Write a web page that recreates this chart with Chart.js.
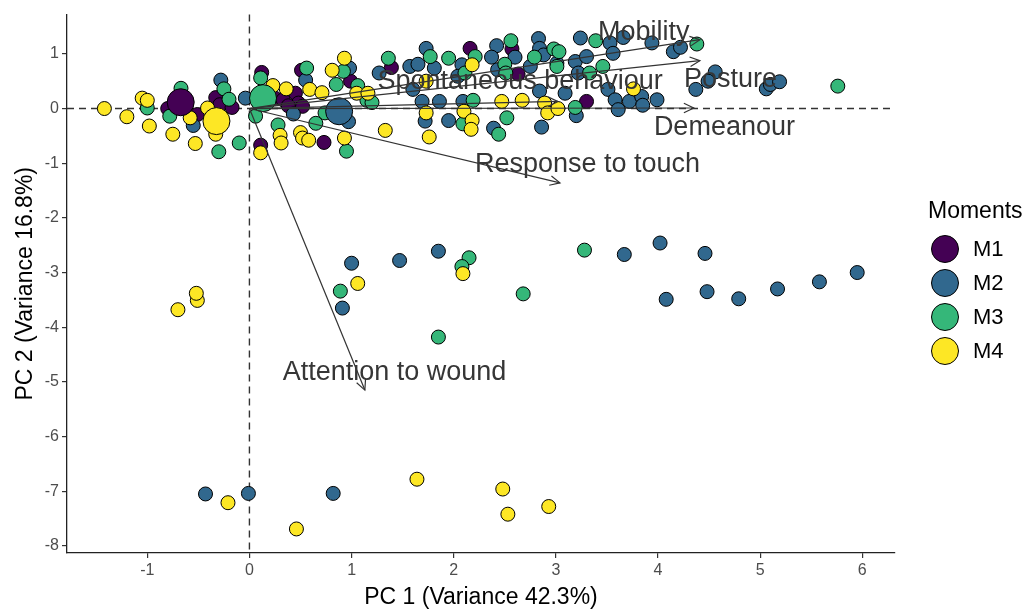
<!DOCTYPE html>
<html><head><meta charset="utf-8">
<script src="https://cdn.jsdelivr.net/npm/chart.js@4.4.0/dist/chart.umd.min.js"></script>
<style>html,body{margin:0;padding:0;background:#fff}</style>
</head><body>
<canvas id="c" width="1028" height="611" style="display:block"></canvas>
<script>
const FONT = '"Liberation Sans", Arial, sans-serif';
const moments = ['M1', 'M2', 'M3', 'M4'];
const momentColors = ['#440154', '#31688E', '#35B779', '#FDE725'];
const xTitle = 'PC 1 (Variance 42.3%)';
const yTitle = 'PC 2 (Variance 16.8%)';
const legendTitle = 'Moments';

const m1Points = [[-0.80,0.00],[-0.51,-0.11],[-0.33,0.20],[-0.29,0.07],[-0.17,0.02],[0.12,0.66],[0.11,-0.67],
  [0.25,0.19],[0.45,0.28],[0.48,0.10],[0.33,0.16],[0.38,0.05],[0.52,0.04],[0.51,0.70],[0.73,-0.62],[0.99,0.50],
  [1.39,0.75],[2.16,1.10],[2.57,1.09],[2.63,0.63],[3.30,0.13]];
const m2Points = [[-0.55,-0.31],[-0.28,0.52],[-0.04,0.19],[0.43,-0.10],[0.55,0.52],[0.97,-0.24],[0.98,0.74],
  [1.27,0.65],[1.57,0.77],[1.65,0.81],[1.73,1.10],[1.81,0.74],[1.60,0.35],[1.69,0.13],[1.72,-0.23],[1.86,0.13],
  [1.95,-0.22],[2.08,0.80],[2.04,0.59],[2.09,0.13],[2.42,1.15],[2.37,0.94],[2.60,0.94],[2.43,0.71],[2.83,1.28],
  [2.84,1.10],[2.88,0.98],[3.01,0.83],[2.75,0.77],[2.84,0.32],[2.39,-0.36],[2.86,-0.34],[3.24,1.29],[3.53,1.20],
  [3.56,1.01],[3.66,1.30],[3.94,1.20],[4.15,1.04],[4.22,1.12],[3.19,0.86],[3.30,0.95],[3.22,0.65],[4.56,0.67],
  [4.49,0.50],[4.37,0.35],[5.06,0.36],[5.10,0.44],[5.19,0.49],[3.09,0.28],[3.51,0.35],[3.58,0.16],[3.72,0.13],
  [3.84,0.22],[3.99,0.16],[3.61,-0.02],[3.85,0.06],[3.20,-0.13],
  [1.00,-2.83],[1.47,-2.78],[1.85,-2.61],[0.91,-3.65],[3.67,-2.67],[4.02,-2.46],[4.46,-2.65],[4.08,-3.49],
  [4.48,-3.35],[4.79,-3.48],[5.17,-3.30],[5.58,-3.17],[5.95,-3.00],[-0.43,-7.05],[-0.01,-7.04],[0.82,-7.04]];
const m3Points = [[-1.00,0.01],[-0.78,-0.14],[-0.67,0.37],[-0.30,-0.79],[-0.25,0.36],[-0.20,0.17],[-0.10,-0.63],
  [0.06,-0.14],[0.11,0.56],[0.28,-0.30],[0.56,0.74],[0.65,-0.27],[0.74,-0.08],[0.85,0.44],[0.92,0.68],[0.95,-0.78],
  [1.06,0.42],[1.15,0.15],[1.20,0.11],[1.36,0.92],[1.77,0.95],[1.95,0.92],[2.11,0.65],[2.21,0.95],[2.09,-0.28],
  [2.19,0.15],[2.50,0.81],[2.51,0.65],[2.56,1.24],[2.79,0.94],[2.98,1.09],[3.03,1.04],[3.01,0.77],[3.46,0.77],
  [3.39,1.24],[4.38,1.18],[3.33,0.65],[5.76,0.41],[2.52,-0.17],[2.44,-0.47],[3.19,0.02],
  [2.15,-2.73],[2.08,-2.89],[0.89,-3.34],[1.85,-4.18],[2.68,-3.39],[3.28,-2.59]];
const m4Points = [[-1.42,0.00],[-1.20,-0.15],[-1.05,0.19],[-1.00,0.15],[-0.98,-0.32],[-0.75,-0.47],[-0.58,-0.17],
  [-0.53,-0.64],[-0.41,0.01],[-0.33,-0.47],[0.11,-0.81],[0.23,0.42],[0.36,0.36],[0.30,-0.49],[0.31,-0.63],
  [0.50,-0.44],[0.52,-0.54],[0.58,-0.58],[0.59,0.35],[0.71,0.29],[0.81,0.70],[0.93,0.92],[0.93,-0.54],[1.05,0.28],
  [1.16,0.28],[1.33,-0.40],[1.73,0.50],[1.73,-0.08],[1.76,-0.52],[2.10,-0.05],[2.18,0.80],[2.18,-0.22],[2.17,-0.38],
  [2.47,0.13],[2.67,0.15],[2.89,0.10],[2.92,-0.08],[3.02,0.00],[3.76,0.36],
  [-0.70,-3.68],[-0.51,-3.51],[-0.52,-3.38],[1.06,-3.20],[2.09,-3.02],[-0.21,-7.21],[0.46,-7.69],[1.64,-6.78],
  [2.48,-6.96],[2.53,-7.42],[2.93,-7.28]];

const centroidX = [-0.673, 0.878, 0.133, -0.323];
const centroidY = [0.115, -0.05, 0.19, -0.23];

const loadingNames = ['Mobility', 'Posture', 'Demeanour', 'Spontaneous behaviour', 'Response to touch', 'Attention to wound'];
const loadingX = [4.41, 4.41, 4.35, 3.02, 3.04, 1.13];
const loadingY = [1.26, 0.875, 0.01, 0.13, -1.36, -5.15];
const labelX = [3.86, 4.71, 4.65, 2.65, 3.31, 1.42];
const labelY = [1.39, 0.53, -0.34, 0.50, -1.02, -4.83];

const xTicks = [-1, 0, 1, 2, 3, 4, 5, 6];
const yTicks = [-8, -7, -6, -5, -4, -3, -2, -1, 0, 1];

const seriesPoints = [m1Points, m2Points, m3Points, m4Points];
const datasets = [];
seriesPoints.forEach((pts, i) => {
  datasets.push({
    label: moments[i],
    data: pts.map(p => ({x: p[0], y: p[1]})),
    backgroundColor: momentColors[i], borderColor: '#000', borderWidth: 1,
    pointRadius: 7, pointHoverRadius: 7, order: 5 - i
  });
});
moments.forEach((m, i) => {
  datasets.push({
    label: m + ' centroid',
    data: [{x: centroidX[i], y: centroidY[i]}],
    backgroundColor: momentColors[i], borderColor: '#000', borderWidth: 1,
    pointRadius: 13.5, pointHoverRadius: 13.5, order: 0
  });
});

const refLines = {
  id: 'refLines',
  beforeDatasetsDraw(chart) {
    const {ctx, chartArea: a, scales: {x, y}} = chart;
    ctx.save();
    ctx.strokeStyle = '#333'; ctx.lineWidth = 1.4; ctx.setLineDash([7, 5]);
    const x0 = x.getPixelForValue(0), y0 = y.getPixelForValue(0);
    ctx.beginPath(); ctx.moveTo(x0, a.top); ctx.lineTo(x0, a.bottom); ctx.stroke();
    ctx.beginPath(); ctx.moveTo(a.left, y0); ctx.lineTo(a.right, y0); ctx.stroke();
    ctx.restore();
  }
};

const arrows = {
  id: 'arrows',
  afterDatasetsDraw(chart) {
    const {ctx, scales: {x, y}} = chart;
    const ox = x.getPixelForValue(0), oy = y.getPixelForValue(0);
    ctx.save();
    ctx.strokeStyle = '#333'; ctx.lineWidth = 1.2; ctx.setLineDash([]);
    loadingNames.forEach((n, i) => {
      const ex = x.getPixelForValue(loadingX[i]), ey = y.getPixelForValue(loadingY[i]);
      const ang = Math.atan2(ey - oy, ex - ox);
      const L = 11, h = 0.45;
      ctx.beginPath(); ctx.moveTo(ox, oy); ctx.lineTo(ex, ey); ctx.stroke();
      ctx.beginPath();
      ctx.moveTo(ex - L * Math.cos(ang - h), ey - L * Math.sin(ang - h));
      ctx.lineTo(ex, ey);
      ctx.lineTo(ex - L * Math.cos(ang + h), ey - L * Math.sin(ang + h));
      ctx.stroke();
    });
    ctx.fillStyle = '#363636';
    ctx.font = '27px ' + FONT;
    ctx.textAlign = 'center'; ctx.textBaseline = 'middle';
    loadingNames.forEach((n, i) => {
      ctx.fillText(n, x.getPixelForValue(labelX[i]), y.getPixelForValue(labelY[i]));
    });
    ctx.restore();
  }
};

const legendPlugin = {
  id: 'customLegend',
  afterDraw(chart) {
    const ctx = chart.ctx;
    ctx.save();
    ctx.fillStyle = '#000';
    ctx.font = '23px ' + FONT;
    ctx.textAlign = 'left'; ctx.textBaseline = 'middle';
    ctx.fillText(legendTitle, 928, 212);
    moments.forEach((m, i) => {
      const cy = 249 + i * 34;
      ctx.beginPath(); ctx.arc(945, cy, 13.5, 0, Math.PI * 2);
      ctx.fillStyle = momentColors[i]; ctx.fill();
      ctx.lineWidth = 1; ctx.strokeStyle = '#000'; ctx.stroke();
      ctx.fillStyle = '#000'; ctx.font = '22px ' + FONT;
      ctx.fillText(m, 973, cy + 1);
    });
    ctx.restore();
  }
};

new Chart(document.getElementById('c'), {
  type: 'scatter',
  data: {datasets},
  options: {
    responsive: false, animation: false, devicePixelRatio: 1,
    layout: {padding: {left: 12, right: 133, top: 13, bottom: 0}},
    plugins: {legend: {display: false}, tooltip: {enabled: false}},
    scales: {
      x: {
        type: 'linear', min: -1.786, max: 6.32,
        afterFit(s) { s.height = 58; },
        afterBuildTicks(s) { s.ticks = xTicks.map(v => ({value: v})); },
        ticks: {color: '#4d4d4d', font: {family: FONT, size: 16}, padding: 3, maxRotation: 0},
        grid: {display: true, drawOnChartArea: false, drawTicks: true, tickLength: 5, color: '#333', lineWidth: 1.2},
        border: {display: true, color: '#222', width: 1.3},
        title: {display: true, text: xTitle, color: '#000', font: {family: FONT, size: 23}, padding: {top: 2, bottom: 0}}
      },
      y: {
        type: 'linear', min: -8.13, max: 1.72,
        afterFit(s) { s.width = 55; },
        afterBuildTicks(s) { s.ticks = yTicks.map(v => ({value: v})); },
        ticks: {color: '#4d4d4d', font: {family: FONT, size: 16}, padding: 3},
        grid: {display: true, drawOnChartArea: false, drawTicks: true, tickLength: 5, color: '#333', lineWidth: 1.2},
        border: {display: true, color: '#222', width: 1.3},
        title: {display: true, text: yTitle, color: '#000', font: {family: FONT, size: 23}, padding: {top: 0, bottom: 0}}
      }
    }
  },
  plugins: [refLines, arrows, legendPlugin]
});
</script>
</body></html>
